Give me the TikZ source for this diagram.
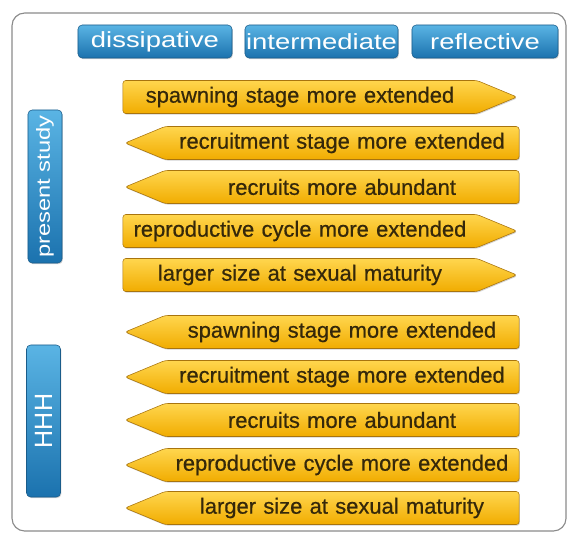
\documentclass[tikz,border=0pt]{standalone}
\usepackage{fontspec}
\setmainfont{Liberation Sans}
\newfontfamily\widefont[FakeStretch=1.25]{Liberation Sans}
\newfontfamily\stagefont[FakeBold=0.6]{Liberation Sans}
\usetikzlibrary{shapes.symbols,shadows}
\definecolor{bluetop}{HTML}{5AB4E4}
\definecolor{bluebottom}{HTML}{1B72AE}
\definecolor{blueedge}{HTML}{1A5C8A}
\definecolor{goldtop}{HTML}{FFD64E}
\definecolor{goldbottom}{HTML}{F1AC00}
\definecolor{goldedge}{HTML}{A8740E}
\definecolor{inkbrown}{HTML}{35280A}
\definecolor{framegray}{HTML}{8A8A8A}
\tikzstyle{frame}=[draw=framegray,thick,rounded corners=9pt]
\tikzstyle{header}=[rectangle,rounded corners=3pt,draw=blueedge,top color=bluetop,bottom color=bluebottom,text=white,minimum height=0.825cm,inner sep=0pt,drop shadow={opacity=0.35,shadow xshift=0.6pt,shadow yshift=-0.8pt},font=\widefont\fontsize{15.6}{18}\selectfont]
\tikzstyle{study}=[header,rotate=90,minimum height=0.85cm,font=\widefont\fontsize{13.5}{16}\selectfont]
\tikzstyle{stage}=[signal,signal pointer angle=45,rounded corners=2pt,draw=goldedge,top color=goldtop,bottom color=goldbottom,text=inkbrown,text width=8.85cm,align=center,minimum height=0.825cm,inner sep=0pt,drop shadow={opacity=0.35,shadow xshift=0.6pt,shadow yshift=-0.8pt},font=\stagefont\fontsize{15.6}{18}\selectfont]
\tikzstyle{toreflect}=[stage,signal to=east]
\tikzstyle{todissip}=[stage,signal to=west]

\begin{document}
\begin{tikzpicture}[x=0.025cm,y=-0.025cm]
	\useasboundingbox (0,0) rectangle (571,534);
	\draw[frame] (12,13) rectangle (566,531);
	
	\node[header, minimum width=3.85cm] (dissip) at (155,41.5) {dissipative};
	\node[header, minimum width=3.825cm] (interm) at (321.5,41.5) {intermediate};
	\node[header, minimum width=3.65cm] (reflect) at (485,41.5) {reflective};
	
	\node[study, minimum width=3.825cm] (present) at (45,186.5) {present study};
	\node[study, minimum width=3.8cm, font=\fontsize{17.8}{20}\selectfont] (hhh) at (43.5,421) {HHH};
	
	\node[toreflect] (pspawn) at (300,97) {spawning stage more extended};
	\node[todissip] (precruit) at (342,143) {recruitment stage more extended};
	\node[todissip] (pabund) at (342,187) {recruits more abundant};
	\node[toreflect] (pcycle) at (300,231) {reproductive cycle more extended};
	\node[toreflect] (psize) at (300,275) {larger size at sexual maturity};
	
	\node[todissip] (hspawn) at (342,332) {spawning stage more extended};
	\node[todissip] (hrecruit) at (342,377) {recruitment stage more extended};
	\node[todissip] (habund) at (342,420) {recruits more abundant};
	\node[todissip] (hcycle) at (342,465) {reproductive cycle more extended};
	\node[todissip] (hsize) at (342,508) {larger size at sexual maturity};
\end{tikzpicture}
\end{document}
